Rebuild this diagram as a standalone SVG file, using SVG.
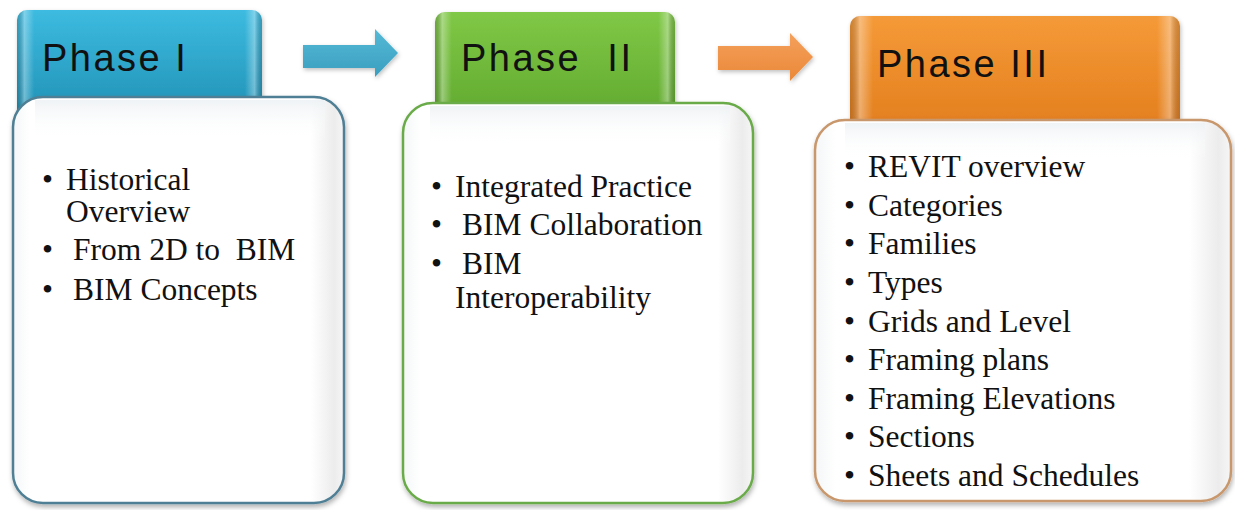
<svg xmlns="http://www.w3.org/2000/svg" width="1235" height="510" viewBox="0 0 1235 510">
  <defs>
    <linearGradient id="gBlue" x1="0" y1="0" x2="0" y2="1">
      <stop offset="0" stop-color="#3dbbe0"/>
      <stop offset="1" stop-color="#1f8fb3"/>
    </linearGradient>
    <linearGradient id="gGreen" x1="0" y1="0" x2="0" y2="1">
      <stop offset="0" stop-color="#80c846"/>
      <stop offset="1" stop-color="#5ea82e"/>
    </linearGradient>
    <linearGradient id="gOrange" x1="0" y1="0" x2="0" y2="1">
      <stop offset="0" stop-color="#f59a38"/>
      <stop offset="1" stop-color="#e27d1c"/>
    </linearGradient>
    <!-- bevel sheen along the side edges of the headers -->
    <linearGradient id="gSheen" x1="0" y1="0" x2="1" y2="0">
      <stop offset="0" stop-color="#000" stop-opacity="0.15"/>
      <stop offset="0.03" stop-color="#fff" stop-opacity="0.35"/>
      <stop offset="0.07" stop-color="#fff" stop-opacity="0"/>
      <stop offset="0.93" stop-color="#fff" stop-opacity="0"/>
      <stop offset="0.97" stop-color="#fff" stop-opacity="0.35"/>
      <stop offset="1" stop-color="#000" stop-opacity="0.15"/>
    </linearGradient>
    <linearGradient id="gCard" x1="0" y1="0" x2="1" y2="0">
      <stop offset="0" stop-color="#f4f6f7"/>
      <stop offset="0.05" stop-color="#ffffff"/>
      <stop offset="0.9" stop-color="#ffffff"/>
      <stop offset="0.97" stop-color="#ececec"/>
      <stop offset="1" stop-color="#f6f6f6"/>
    </linearGradient>
    <!-- faint reflection of the header across the top of each card -->
    <linearGradient id="gGlow" x1="0" y1="0" x2="0" y2="1">
      <stop offset="0" stop-color="#eef2f4" stop-opacity="0.9"/>
      <stop offset="1" stop-color="#ffffff" stop-opacity="0"/>
    </linearGradient>
    <linearGradient id="gArrowBlue" x1="0" y1="0" x2="0" y2="1">
      <stop offset="0" stop-color="#55b9d6"/>
      <stop offset="1" stop-color="#3a9fc0"/>
    </linearGradient>
    <linearGradient id="gArrowOrange" x1="0" y1="0" x2="0" y2="1">
      <stop offset="0" stop-color="#f5a05c"/>
      <stop offset="1" stop-color="#ea8838"/>
    </linearGradient>
    <filter id="shadow" x="-10%" y="-10%" width="120%" height="120%">
      <feDropShadow dx="1" dy="3" stdDeviation="2.5" flood-color="#000" flood-opacity="0.3"/>
    </filter>
    <filter id="softShadow" x="-10%" y="-20%" width="120%" height="140%">
      <feDropShadow dx="1" dy="2" stdDeviation="2" flood-color="#000" flood-opacity="0.25"/>
    </filter>
  </defs>
  <style>
    .head { font-family: "Liberation Sans", Arial, sans-serif; font-size: 38px; letter-spacing: 2.5px; fill: #111; white-space: pre; }
    .item { font-family: "Liberation Serif", "Times New Roman", serif; font-size: 31.5px; fill: #111; white-space: pre; }
    .card { fill: url(#gCard); stroke-width: 2.5; filter: url(#shadow); }
  </style>

  <rect width="1235" height="510" fill="#ffffff"/>

  <!-- connectors -->
  <g id="connectors">
    <path d="M303,45 H375 V29 L398,53 L375,77 V68 H303 Z" fill="url(#gArrowBlue)" filter="url(#softShadow)"/>
    <path d="M718,46 H790 V33 L813,57 L790,81 V70 H718 Z" fill="url(#gArrowOrange)" filter="url(#softShadow)"/>
  </g>

  <!-- Phase I -->
  <g id="phase1">
    <rect x="17" y="10" width="245" height="112" rx="10" fill="url(#gBlue)" filter="url(#softShadow)"/>
    <rect x="17" y="10" width="245" height="112" rx="10" fill="url(#gSheen)"/>
    <text class="head" x="42" y="71">Phase I</text>
    <rect class="card" x="13" y="97" width="331" height="406" rx="30" stroke="#4f7f94"/>
    <rect x="35" y="100" width="290" height="40" fill="url(#gGlow)"/>
    <text class="item" x="42" y="190">•</text>
    <text class="item" x="66" y="190">Historical</text>
    <text class="item" x="66" y="222">Overview</text>
    <text class="item" x="42" y="260">•</text>
    <text class="item" x="73" y="260">From 2D to  BIM</text>
    <text class="item" x="42" y="300">•</text>
    <text class="item" x="73" y="300">BIM Concepts</text>
  </g>

  <!-- Phase II -->
  <g id="phase2">
    <rect x="435" y="12" width="240" height="112" rx="10" fill="url(#gGreen)" filter="url(#softShadow)"/>
    <rect x="435" y="12" width="240" height="112" rx="10" fill="url(#gSheen)"/>
    <text class="head" x="461" y="71">Phase  II</text>
    <rect class="card" x="403" y="103" width="350" height="400" rx="30" stroke="#6bab4a"/>
    <rect x="430" y="106" width="300" height="40" fill="url(#gGlow)"/>
    <text class="item" x="431" y="197">•</text>
    <text class="item" x="455" y="197">Integrated Practice</text>
    <text class="item" x="431" y="235">•</text>
    <text class="item" x="462" y="235">BIM Collaboration</text>
    <text class="item" x="431" y="274">•</text>
    <text class="item" x="462" y="274">BIM</text>
    <text class="item" x="455" y="308">Interoperability</text>
  </g>

  <!-- Phase III -->
  <g id="phase3">
    <rect x="850" y="16" width="330" height="118" rx="10" fill="url(#gOrange)" filter="url(#softShadow)"/>
    <rect x="850" y="16" width="330" height="118" rx="10" fill="url(#gSheen)"/>
    <text class="head" x="877" y="77">Phase III</text>
    <rect class="card" x="815" y="120" width="416" height="381" rx="30" stroke="#c9976c"/>
    <rect x="845" y="123" width="360" height="36" fill="url(#gGlow)"/>
    <text class="item" x="844" y="177">•</text><text class="item" x="868" y="177">REVIT overview</text>
    <text class="item" x="844" y="216">•</text><text class="item" x="868" y="216">Categories</text>
    <text class="item" x="844" y="254">•</text><text class="item" x="868" y="254">Families</text>
    <text class="item" x="844" y="293">•</text><text class="item" x="868" y="293">Types</text>
    <text class="item" x="844" y="332">•</text><text class="item" x="868" y="332">Grids and Level</text>
    <text class="item" x="844" y="370">•</text><text class="item" x="868" y="370">Framing plans</text>
    <text class="item" x="844" y="409">•</text><text class="item" x="868" y="409">Framing Elevations</text>
    <text class="item" x="844" y="447">•</text><text class="item" x="868" y="447">Sections</text>
    <text class="item" x="844" y="486">•</text><text class="item" x="868" y="486">Sheets and Schedules</text>
  </g>
</svg>
